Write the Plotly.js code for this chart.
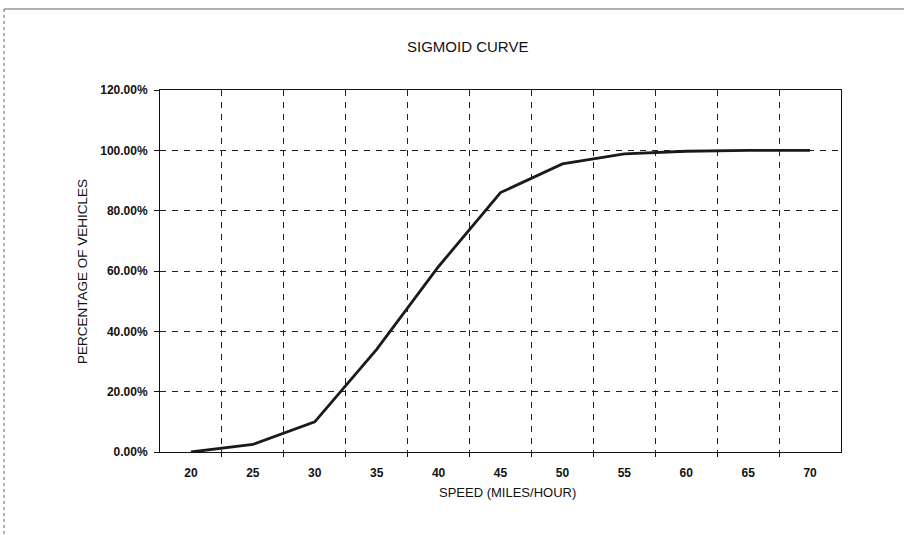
<!DOCTYPE html>
<html>
<head>
<meta charset="utf-8">
<script src="https://cdn.plot.ly/plotly-3.0.1.min.js"></script>
<style>
  html, body { margin: 0; padding: 0; background: #fff; }
  #chart { width: 904px; height: 535px; }
</style>
</head>
<body>
<div id="chart"></div>
<script>
// Data
const speeds = [20, 25, 30, 35, 40, 45, 50, 55, 60, 65, 70];
const percentVehicles = [0.0, 0.025, 0.10, 0.34, 0.615, 0.86, 0.955, 0.988, 0.997, 1.0, 1.0];
const xTickLabels = ['20', '25', '30', '35', '40', '45', '50', '55', '60', '65', '70'];
const categoryBoundaries = [22.5, 27.5, 32.5, 37.5, 42.5, 47.5, 52.5, 57.5, 62.5, 67.5];
const yTickValues = [0, 0.2, 0.4, 0.6, 0.8, 1.0, 1.2];

const chartTitle = 'SIGMOID CURVE';
const xTitle = 'SPEED (MILES/HOUR)';
const yTitle = 'PERCENTAGE OF VEHICLES';

const FONT = 'Liberation Sans, Arial, sans-serif';

const trace = {
  x: speeds,
  y: percentVehicles,
  type: 'scatter',
  mode: 'lines',
  line: { color: '#1a1a1a', width: 2.8 },
  hoverinfo: 'skip',
  showlegend: false
};

const layout = {
  width: 904,
  height: 535,
  margin: { l: 160, r: 63, t: 90, b: 83 },
  paper_bgcolor: '#ffffff',
  plot_bgcolor: '#ffffff',
  font: { family: FONT, color: '#111', size: 12 },
  showlegend: false,
  xaxis: {
    range: [17.5, 72.5],
    tickmode: 'array',
    tickvals: speeds,
    ticktext: xTickLabels,
    ticks: '',
    showgrid: false,
    zeroline: false,
    showline: true,
    linecolor: '#111',
    linewidth: 1,
    mirror: true,
    ticklabelstandoff: 10,
    tickfont: { family: FONT, size: 12, color: '#111', weight: 'bold' },
    minor: {
      tickmode: 'array',
      tickvals: categoryBoundaries,
      ticks: 'outside',
      ticklen: 4,
      tickcolor: '#111',
      showgrid: true,
      gridcolor: '#222',
      gridwidth: 1,
      griddash: '6px,6px'
    },
    fixedrange: true
  },
  yaxis: {
    range: [0, 1.2],
    tickmode: 'array',
    tickvals: yTickValues,
    tickformat: '.2%',
    ticks: 'outside',
    ticklen: 5,
    tickcolor: '#111',
    showgrid: true,
    gridcolor: '#222',
    gridwidth: 1,
    griddash: '6px,6px',
    zeroline: false,
    showline: true,
    linecolor: '#111',
    linewidth: 1,
    mirror: true,
    ticklabelstandoff: 4,
    tickfont: { family: FONT, size: 12, color: '#111', weight: 'bold' },
    fixedrange: true
  },
  annotations: [
    {
      text: chartTitle, xref: 'paper', yref: 'paper',
      x: 0.451, y: 1.119, xanchor: 'center', yanchor: 'middle',
      showarrow: false, font: { family: FONT, size: 15, color: '#111' }
    },
    {
      text: yTitle, xref: 'paper', yref: 'paper',
      x: -0.1145, y: 0.497, xanchor: 'center', yanchor: 'middle',
      textangle: -90, showarrow: false,
      font: { family: FONT, size: 13.5, color: '#111' }
    },
    {
      text: xTitle, xref: 'paper', yref: 'paper',
      x: 0.51, y: -0.113, xanchor: 'center', yanchor: 'middle',
      showarrow: false, font: { family: FONT, size: 13, color: '#111' }
    }
  ],
  shapes: [
    // scanned page frame: top and left edges
    { type: 'line', xref: 'paper', yref: 'paper',
      x0: -0.229, x1: 1.1, y0: 1.2238, y1: 1.2238,
      line: { color: '#666', width: 1 } },
    { type: 'line', xref: 'paper', yref: 'paper',
      x0: -0.229, x1: -0.229, y0: 1.2238, y1: -0.24,
      line: { color: '#666', width: 1, dash: 'dot' } }
  ]
};

Plotly.newPlot('chart', [trace], layout, { displayModeBar: false, staticPlot: true });
</script>
</body>
</html>
